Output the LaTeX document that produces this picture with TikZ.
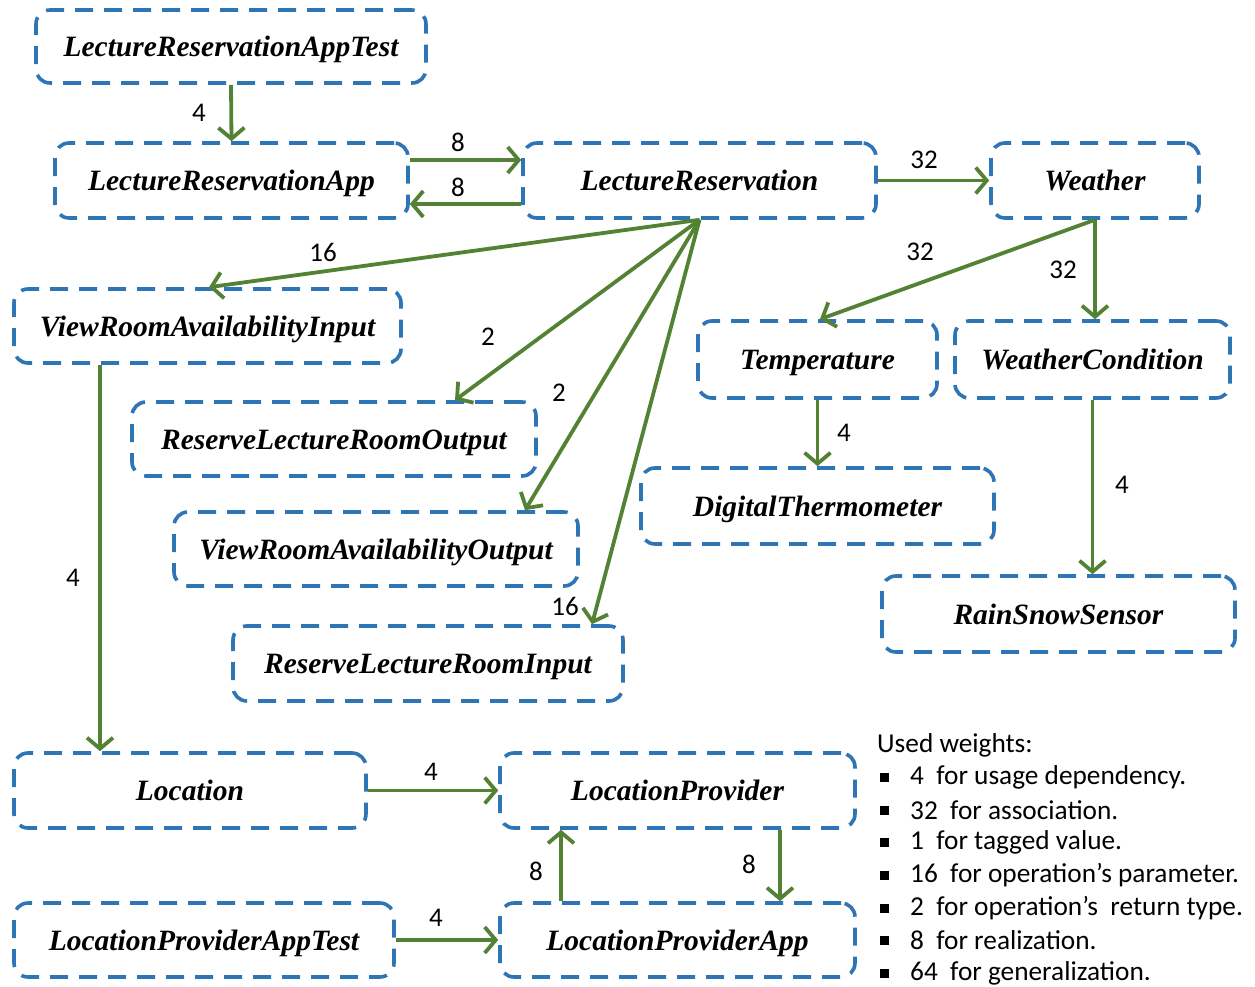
\documentclass[tikz,border=0pt]{standalone}
\usepackage{fontspec}
\newfontfamily\clsfont{Liberation Serif}
\newfontfamily\labelfont{Carlito}
\usetikzlibrary{arrows.meta}
\definecolor{boxblue}{HTML}{2E75B6}
\definecolor{arrgreen}{HTML}{548235}
\begin{document}
\begin{tikzpicture}[x=1pt,y=-1pt,
  cls/.style={draw=boxblue, line width=3.6pt, dash pattern=on 18pt off 11pt,
    rounded corners=14pt, inner sep=0pt, text height=20pt, text depth=0pt,
    font=\clsfont\fontsize{29.5}{32}\selectfont\bfseries\itshape},
  dep/.style={draw=arrgreen, line width=3.8pt,
    -{Straight Barb[length=11pt,width=26pt,line width=3.8pt]}},
  wt/.style={font=\labelfont\fontsize{27}{30}\selectfont, inner sep=0pt},
  legend/.style={font=\labelfont\fontsize{27.3}{30}\selectfont, inner sep=0pt, anchor=west},
  bullet/.style={fill=black, minimum size=9pt, inner sep=0pt}]
\useasboundingbox (0,0) rectangle (1255,987);

% classes
\node[cls, minimum width=390pt, minimum height=73pt] (lrat) at (231,46.5) {LectureReservationAppTest};
\node[cls, minimum width=353pt, minimum height=75pt] (lra) at (231.5,180.5) {LectureReservationApp};
\node[cls, minimum width=353pt, minimum height=75pt] (lr) at (699.5,180.5) {LectureReservation};
\node[cls, minimum width=208pt, minimum height=75pt] (w) at (1095,180.5) {Weather};
\node[cls, minimum width=387pt, minimum height=74pt] (vrai) at (207.5,326) {ViewRoomAvailabilityInput};
\node[cls, minimum width=239pt, minimum height=77pt] (t) at (817.5,359.5) {Temperature};
\node[cls, minimum width=275pt, minimum height=77pt] (wc) at (1092.5,359.5) {WeatherCondition};
\node[cls, minimum width=404pt, minimum height=74pt] (rlro) at (334,439) {ReserveLectureRoomOutput};
\node[cls, minimum width=353pt, minimum height=76pt] (dt) at (817.5,506) {DigitalThermometer};
\node[cls, minimum width=404pt, minimum height=74pt] (vrao) at (376,549) {ViewRoomAvailabilityOutput};
\node[cls, minimum width=353pt, minimum height=76pt] (rss) at (1058.5,614) {RainSnowSensor};
\node[cls, minimum width=390pt, minimum height=75pt] (rlri) at (428,663.5) {ReserveLectureRoomInput};
\node[cls, minimum width=352pt, minimum height=75pt] (loc) at (190,790.5) {Location};
\node[cls, minimum width=355pt, minimum height=75pt] (lp) at (677.5,790.5) {LocationProvider};
\node[cls, minimum width=380pt, minimum height=74pt] (lpat) at (204,940) {LocationProviderAppTest};
\node[cls, minimum width=355pt, minimum height=74pt] (lpa) at (677.5,940) {LocationProviderApp};

% dependencies
\draw[dep] (lrat.south) -- (lra.north);
\draw[dep] ([yshift=20.5pt]lra.east) -- ([yshift=20.5pt]lr.west);
\draw[dep] ([yshift=-23.5pt]lr.west) -- ([yshift=-23.5pt]lra.east);
\draw[dep] (lr.east) -- (w.west);
\draw[dep] (lr.south) -- ([xshift=1.5pt]vrai.north);
\draw[dep] (lr.south) -- ([xshift=121pt]rlro.north);
\draw[dep] (lr.south) -- ([xshift=149pt]vrao.north);
\draw[dep] (lr.south) -- ([xshift=164pt]rlri.north);
\draw[dep] (w.south) -- ([xshift=2.5pt]t.north);
\draw[dep] (w.south) -- ([xshift=2.5pt]wc.north);
\draw[dep] (t.south) -- (dt.north);
\draw[dep] (wc.south) -- (wc.south |- rss.north);
\draw[dep] ([xshift=-107.5pt]vrai.south) -- ([xshift=-107.5pt]vrai.south |- loc.north);
\draw[dep] (loc.east) -- (lp.west);
\draw[dep] (lpat.east) -- (lpa.west);
\draw[dep] ([xshift=-116.5pt]lpa.north) -- ([xshift=-116.5pt]lpa.north |- lp.south);
\draw[dep] ([xshift=102.5pt]lp.south) -- ([xshift=102.5pt]lp.south |- lpa.north);

% weights
\node[wt] (w1) at (199,113) {4};
\node[wt] (w2) at (458,142) {8};
\node[wt] (w3) at (458,187) {8};
\node[wt] (w4) at (924,160) {32};
\node[wt] (w5) at (323,252) {16};
\node[wt] (w6) at (488,337) {2};
\node[wt] (w7) at (559,393) {2};
\node[wt] (w8) at (565,606) {16};
\node[wt] (w9) at (920,252) {32};
\node[wt] (w10) at (1063,270) {32};
\node[wt] (w11) at (844,433) {4};
\node[wt] (w12) at (1122,485) {4};
\node[wt] (w13) at (73,578) {4};
\node[wt] (w14) at (431,772) {4};
\node[wt] (w15) at (436,918) {4};
\node[wt] (w16) at (536,871) {8};
\node[wt] (w17) at (749,864) {8};

% legend
\node[legend] (lh) at (877,745) {Used weights:};
\foreach \y/\t [count=\i] in {777/{4~ for usage dependency.},
    810/{32~ for association.},
    842/{1~ for tagged value.},
    875/{16~ for operation’s parameter.},
    908/{2~ for operation’s~ return type.},
    940/{8~ for realization.},
    973/{64~ for generalization.}}{
  \node[bullet] (b\i) at (884,\y) {};
  \node[legend] (l\i) at (910,\y) {\t};
}
\end{tikzpicture}
\end{document}
